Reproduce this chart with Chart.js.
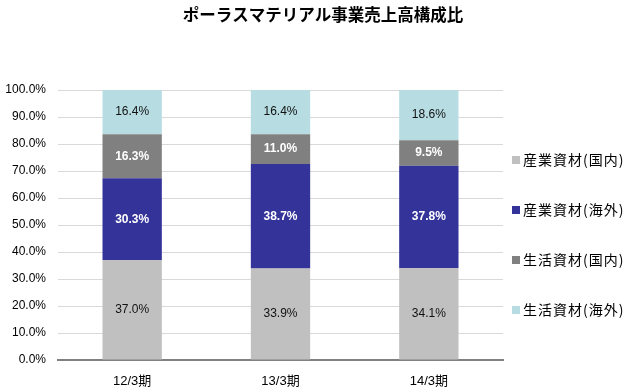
<!DOCTYPE html>
<html>
<head>
<meta charset="utf-8">
<script src="https://cdn.jsdelivr.net/npm/chart.js@4/dist/chart.umd.min.js"></script>
<style>
  body { margin: 0; background: #fff; }
  #wrap { width: 635px; height: 392px; }
</style>
</head>
<body>
<div id="wrap"><canvas id="c" width="635" height="392"></canvas></div>
<script>
// chart data
const periods = ['12/3期', '13/3期', '14/3期'];
const seriesNames = ['産業資材(国内)', '産業資材(海外)', '生活資材(国内)', '生活資材(海外)'];
const indDomestic = [37.0, 33.9, 34.1];
const indOverseas = [30.3, 38.7, 37.8];
const lifeDomestic = [16.3, 11.0, 9.5];
const lifeOverseas = [16.4, 16.4, 18.6];
const chartTitle = 'ポーラスマテリアル事業売上高構成比';

const colors = ['#c0c0c0', '#333399', '#808080', '#b7dde3'];
const labelColors = ['#111', '#fff', '#fff', '#111'];
const labelBold = [false, true, true, false];

const FONT = '"Liberation Sans", "Noto Sans CJK JP", sans-serif';
const JFONT = '"Noto Sans CJK JP", sans-serif';

// simple inline data label plugin
const segLabels = {
  id: 'segLabels',
  afterDatasetsDraw(chart) {
    const ctx = chart.ctx;
    ctx.save();
    ctx.textAlign = 'center';
    ctx.textBaseline = 'middle';
    chart.data.datasets.forEach((ds, i) => {
      const meta = chart.getDatasetMeta(i);
      meta.data.forEach((bar, j) => {
        const y = (bar.y + bar.base) / 2;
        ctx.font = (labelBold[i] ? 'bold ' : '') + '12px ' + FONT;
        ctx.fillStyle = labelColors[i];
        ctx.fillText(ds.data[j].toFixed(1) + '%', bar.x, y);
      });
    });
    ctx.restore();
  }
};

// title over the whole page + legend on the right, spaced like the original
const sideLegend = {
  id: 'sideLegend',
  afterDraw(chart) {
    const ctx = chart.ctx;
    ctx.save();
    ctx.textBaseline = 'middle';
    ctx.textAlign = 'center';
    ctx.font = 'bold 16.5px ' + JFONT;
    ctx.fillStyle = '#000';
    ctx.fillText(chartTitle, 323, 15);

    const x = 512, y0 = 160, step = 50;
    ctx.textAlign = 'left';
    ctx.font = '14px ' + JFONT;
    ctx.letterSpacing = '1px';
    chart.data.datasets.forEach((ds, i) => {
      const y = y0 + i * step;
      ctx.fillStyle = ds.backgroundColor;
      ctx.fillRect(x, y - 4, 8, 8);
      ctx.fillStyle = '#000';
      ctx.fillText(ds.label, x + 11, y);
    });
    ctx.restore();
  }
};

const datasets = [indDomestic, indOverseas, lifeDomestic, lifeOverseas].map((d, i) => ({
  label: seriesNames[i],
  data: d,
  backgroundColor: colors[i],
  borderWidth: 0,
  categoryPercentage: 1.0,
  barPercentage: 0.4
}));

new Chart(document.getElementById('c'), {
  type: 'bar',
  data: { labels: periods, datasets: datasets },
  options: {
    responsive: false,
    animation: false,
    layout: { padding: { top: 90, left: 2, right: 132, bottom: 0 } },
    plugins: {
      legend: { display: false },
      tooltip: { enabled: false }
    },
    scales: {
      x: {
        stacked: true,
        grid: { display: false },
        border: { color: '#808080', width: 2 },
        ticks: { color: '#000', padding: 6, font: { family: FONT, size: 13 } },
        afterFit: s => { s.height = 32; }
      },
      y: {
        stacked: true,
        min: 0,
        max: 100,
        ticks: {
          stepSize: 10,
          padding: 12,
          color: '#000',
          font: { family: FONT, size: 12 },
          callback: v => v.toFixed(1) + '%'
        },
        grid: { color: '#d9d9d9', drawTicks: false },
        border: { display: false },
        afterFit: s => { s.width = 56; }
      }
    }
  },
  plugins: [segLabels, sideLegend]
});
</script>
</body>
</html>
